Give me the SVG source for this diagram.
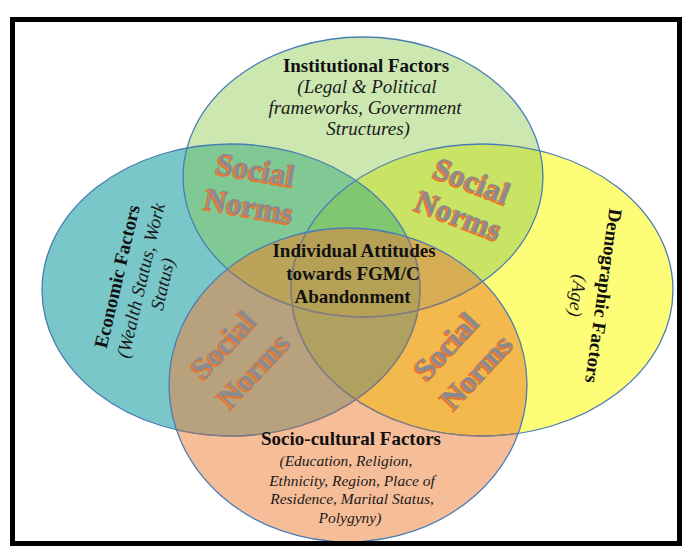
<svg xmlns="http://www.w3.org/2000/svg" xmlns:xlink="http://www.w3.org/1999/xlink" width="684" height="546" viewBox="0 0 684 546">
  <style>
    .ttl { font-family: "Liberation Serif", "Times New Roman", serif; font-weight: bold; font-size: 19px; fill: #111; text-anchor: middle; }
    .sub { font-family: "Liberation Serif", "Times New Roman", serif; font-style: italic; font-size: 19px; fill: #1a1a1a; text-anchor: middle; }
    .sub-s { font-size: 15.5px; }
    .sn { font-family: "Liberation Serif", "Times New Roman", serif; font-weight: bold; font-size: 31px; text-anchor: middle; }
    .sn-shadow { fill: #e8772e; stroke: #e8772e; stroke-width: 1; }
    .sn-face { fill: #8c8a8c; }
    .edge { fill: none; stroke: #4a7db5; stroke-width: 1.3; }
    .edge-in { fill: none; stroke: #8c7a78; stroke-width: 1.3; }
  </style>
  <defs>
    <!-- the four factor ellipses -->
    <ellipse id="eT" cx="363" cy="177" rx="180" ry="140"/>
    <ellipse id="eL" cx="231" cy="290" rx="189" ry="146"/>
    <ellipse id="eR" cx="482" cy="290" rx="191" ry="146"/>
    <ellipse id="eB" cx="348" cy="385" rx="179" ry="157"/>
    <clipPath id="cT"><use xlink:href="#eT"/></clipPath>
    <clipPath id="cL"><use xlink:href="#eL"/></clipPath>
    <clipPath id="cR"><use xlink:href="#eR"/></clipPath>
    <clipPath id="cB"><use xlink:href="#eB"/></clipPath>
    <!-- "Social Norms" label, two lines -->
    <g id="snText">
      <text class="sn" x="0" y="-8.5">Social</text>
      <text class="sn" x="0" y="28.5">Norms</text>
    </g>
    <g id="snTextWide">
      <text class="sn" x="-1" y="-9.5">Social</text>
      <text class="sn" x="1" y="30">Norms</text>
    </g>
  </defs>

  <rect x="0" y="0" width="684" height="546" fill="#ffffff"/>

  <!-- region fills: single sets, then pairwise, triple and fourfold overlaps -->
  <g id="regions">
    <use xlink:href="#eT" fill="#cde7b1"/>
    <use xlink:href="#eL" fill="#79c7c9"/>
    <use xlink:href="#eR" fill="#fdfd78"/>
    <use xlink:href="#eB" fill="#f6bd99"/>

    <use xlink:href="#eL" fill="#80c994" clip-path="url(#cT)"/>
    <use xlink:href="#eR" fill="#c9e465" clip-path="url(#cT)"/>
    <use xlink:href="#eL" fill="#b8a27e" clip-path="url(#cB)"/>
    <use xlink:href="#eR" fill="#f4b94d" clip-path="url(#cB)"/>
    <use xlink:href="#eL" fill="#b1a161" clip-path="url(#cR)"/>
    <use xlink:href="#eT" fill="#bba459" clip-path="url(#cB)"/>

    <g clip-path="url(#cT)"><use xlink:href="#eL" fill="#80c76f" clip-path="url(#cR)"/></g>
    <g clip-path="url(#cT)"><use xlink:href="#eL" fill="#bba459" clip-path="url(#cB)"/></g>
    <g clip-path="url(#cT)"><use xlink:href="#eR" fill="#d6ad52" clip-path="url(#cB)"/></g>
    <g clip-path="url(#cB)"><use xlink:href="#eL" fill="#b1a161" clip-path="url(#cR)"/></g>

    <g clip-path="url(#cT)"><g clip-path="url(#cB)"><use xlink:href="#eL" fill="#b5a056" clip-path="url(#cR)"/></g></g>
  </g>

  <!-- outlines -->
  <g id="outlines">
    <use xlink:href="#eT" class="edge"/>
    <use xlink:href="#eL" class="edge"/>
    <use xlink:href="#eR" class="edge"/>
    <g clip-path="url(#cB)">
      <use xlink:href="#eT" class="edge-in"/>
      <use xlink:href="#eL" class="edge-in"/>
      <use xlink:href="#eR" class="edge-in"/>
    </g>
    <use xlink:href="#eB" class="edge"/>
  </g>

  <!-- Social Norms labels in the four lenses -->
  <g id="social-norms">
    <g id="sn-top-left">
      <g transform="translate(-1.5,1.5)"><use xlink:href="#snText" class="sn-shadow" transform="translate(252.8,188) rotate(10)"/></g>
      <use xlink:href="#snText" class="sn-face" transform="translate(252.8,188) rotate(10)"/>
    </g>
    <g id="sn-top-right">
      <g transform="translate(-1.5,1.5)"><use xlink:href="#snText" class="sn-shadow" transform="translate(465.6,198.2) rotate(21)"/></g>
      <use xlink:href="#snText" class="sn-face" transform="translate(465.6,198.2) rotate(21)"/>
    </g>
    <g id="sn-bottom-left">
      <g transform="translate(-1.5,1.5)"><use xlink:href="#snTextWide" class="sn-shadow" transform="translate(239,357.5) rotate(-47)"/></g>
      <use xlink:href="#snTextWide" class="sn-face" transform="translate(239,357.5) rotate(-47)"/>
    </g>
    <g id="sn-bottom-right">
      <g transform="translate(-1.5,1.5)"><use xlink:href="#snTextWide" class="sn-shadow" transform="translate(461.8,358.9) rotate(-47)"/></g>
      <use xlink:href="#snTextWide" class="sn-face" transform="translate(461.8,358.9) rotate(-47)"/>
    </g>
  </g>

  <!-- factor labels -->
  <g id="institutional">
    <text class="ttl" x="366" y="71.7">Institutional Factors</text>
    <text class="sub" x="367" y="92.8">(Legal &amp; Political</text>
    <text class="sub" x="365" y="114">frameworks, Government</text>
    <text class="sub" x="368" y="135">Structures)</text>
  </g>

  <g id="economic" transform="translate(141,281) rotate(-76.8)">
    <text class="ttl" x="-1" y="-18">Economic Factors</text>
    <text class="sub" x="0.5" y="6">(Wealth Status, Work</text>
    <text class="sub" x="2" y="28">Status)</text>
  </g>

  <g id="demographic" transform="translate(590,296) rotate(98)">
    <text class="ttl" x="-2" y="-7">Demographic Factors</text>
    <text class="sub" x="1.5" y="18.7">(Age)</text>
  </g>

  <g id="socio-cultural">
    <text class="ttl" x="351" y="445">Socio-cultural Factors</text>
    <text class="sub sub-s" x="346" y="465.5">(Education, Religion,</text>
    <text class="sub sub-s" x="352" y="485.5">Ethnicity, Region, Place of</text>
    <text class="sub sub-s" x="352" y="504.3">Residence, Marital Status,</text>
    <text class="sub sub-s" x="350" y="522.5">Polygyny)</text>
  </g>

  <g id="individual-attitudes">
    <text class="ttl" x="354" y="257">Individual Attitudes</text>
    <text class="ttl" x="353" y="280">towards FGM/C</text>
    <text class="ttl" x="352.5" y="303.3">Abandonment</text>
  </g>

  <!-- frame -->
  <rect x="12.5" y="19.5" width="667" height="524" fill="none" stroke="#000" stroke-width="5"/>
</svg>
